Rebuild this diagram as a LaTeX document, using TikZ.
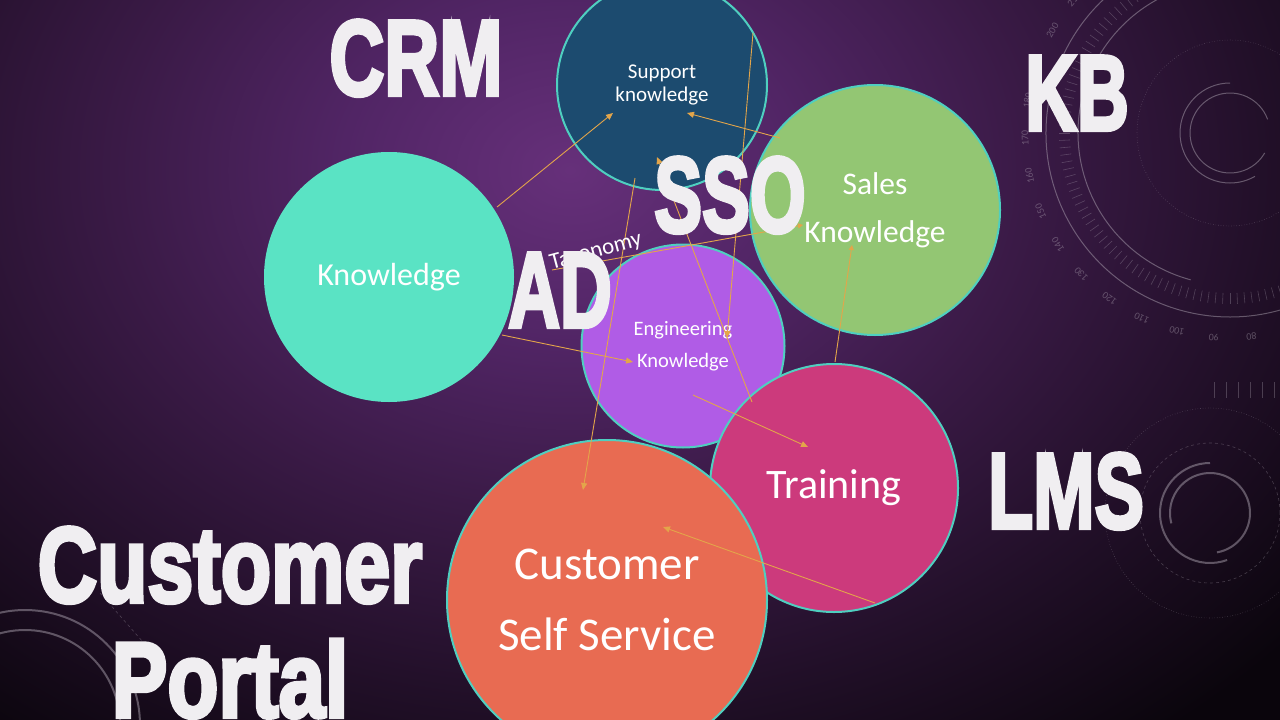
\documentclass[tikz,border=0pt]{standalone}
\usepackage{fontspec}
\setmainfont{Carlito}
\newfontfamily\bigfont[FakeBold=4]{Liberation Sans}
\usetikzlibrary{arrows.meta}
\definecolor{bgA}{HTML}{66307A}
\definecolor{bgB}{HTML}{512565}
\definecolor{bgC}{HTML}{3A1A46}
\definecolor{bgD}{HTML}{23102A}
\definecolor{bgE}{HTML}{0A050C}
\definecolor{rim}{HTML}{4FCFC0}
\definecolor{cSupport}{HTML}{1C4B6F}
\definecolor{cKnow}{HTML}{5AE3C4}
\definecolor{cSales}{HTML}{93C673}
\definecolor{cEng}{HTML}{B05CE6}
\definecolor{cTrain}{HTML}{CC3A7C}
\definecolor{cCust}{HTML}{E86B52}
\definecolor{arrowc}{HTML}{E3A54A}
\definecolor{bigc}{HTML}{F0EEF1}
\definecolor{decoc}{HTML}{B8B0BC}
\pgfdeclareradialshading{bgshade}{\pgfpoint{0bp}{0bp}}{color(0bp)=(bgA); color(6bp)=(bgB); color(12bp)=(bgC); color(18bp)=(bgD); color(25bp)=(bgE); color(50bp)=(bgE)}
\begin{document}
\begin{tikzpicture}[x=1pt,y=-1pt,
  bubble/.style={circle, draw=rim, line width=2pt, inner sep=0pt, text=white, align=center},
  link/.style={draw=arrowc, line width=0.9pt, -{Triangle[length=7pt,width=6pt]}},
  biglabel/.style={text=bigc, inner sep=0pt, anchor=base, font=\bigfont\bfseries\fontsize{107}{110}\selectfont},
  deco/.style={draw=decoc, line width=1pt, opacity=0.45},
  decothin/.style={draw=decoc, line width=0.6pt, opacity=0.3}]
\useasboundingbox (0,0) rectangle (1280,720);
% background
\begin{scope}
\clip (0,0) rectangle (1280,720);
\fill[bgE] (0,0) rectangle (1280,720);
\shade[shading=bgshade] (570,170) ellipse (950 and 720);
% top-right gauge
\begin{scope}[shift={(1230,133)}, y=1pt]
  \draw[deco] (20:40) arc[start angle=20, end angle=330, radius=40];
  \draw[deco] (90:50) arc[start angle=90, end angle=300, radius=50];
  \draw[decothin, dotted] (0,0) circle (93);
  \draw[deco] (100:152) arc[start angle=100, end angle=255, radius=152];
  \draw[deco] (80:184) arc[start angle=80, end angle=300, radius=184];
  \foreach \a in {110,112.5,...,290} \draw[decothin] (\a:160) -- (\a:171);
  \foreach \v in {80,90,...,210} {
    \pgfmathsetmacro{\ang}{360-1.05*\v}
    \node[text=decoc, opacity=0.4, font=\fontsize{10}{10}\selectfont, rotate=\ang-90] at (\ang:205) {\v};
  }
\end{scope}
% bottom-right gauge
\begin{scope}[shift={(1210,513)}, y=1pt]
  \draw[deco, line width=2pt] (90:50) arc[start angle=90, end angle=290, radius=50];
  \draw[deco, line width=2pt] (-80:40) arc[start angle=-80, end angle=195, radius=40];
  \draw[decothin, dashed] (0,0) circle (70);
  \draw[decothin, dotted] (0,0) circle (105);
\end{scope}
\foreach \x in {1214,1226,...,1280} \draw[decothin] (\x,382) -- (\x,398);
% bottom-left gauge
\draw[deco, line width=2pt] (25,725) circle (115);
\draw[deco, line width=2pt] (25,725) circle (95);
\draw[decothin, dashed] (100,593) -- (150,650);
\end{scope}

% bubbles
\node[bubble, fill=cSupport, minimum size=210pt, font=\fontsize{21}{23}\selectfont] (support) at (662,85) {Support\\knowledge};
\node[bubble, fill=cKnow, draw=cKnow, minimum size=248pt, font=\fontsize{32}{36}\selectfont] (know) at (389,277) {Knowledge};
\node[bubble, fill=cEng, minimum size=203pt, font=\fontsize{20.5}{32}\selectfont] (eng) at (683,346) {Engineering\\Knowledge};
\node[bubble, fill=cSales, minimum size=250pt, font=\fontsize{31.5}{48}\selectfont] (sales) at (875,210) {Sales\\Knowledge};
\node[bubble, fill=cTrain, minimum size=248pt, font=\fontsize{42}{46}\selectfont] (train) at (834,488) {Training};
\node[bubble, fill=cCust, minimum size=320pt, font=\fontsize{47}{71}\selectfont] (cust) at (607,600) {Customer\\Self Service};

% connector end points
\coordinate (k1) at (497,207); \coordinate (s1) at (613,113);
\coordinate (sa1) at (780,138); \coordinate (s2) at (687,113);
\coordinate (t1) at (752,402); \coordinate (s3) at (657,157);
\coordinate (s4) at (753,33);  \coordinate (e1) at (727,338);
\coordinate (s5) at (635,178); \coordinate (c1) at (583,490);
\coordinate (x1) at (552,270); \coordinate (sa2) at (803,225);
\coordinate (t2) at (835,362); \coordinate (sa3) at (852,245);
\coordinate (k2) at (502,335); \coordinate (e2) at (633,362);
\coordinate (e3) at (693,395); \coordinate (t3) at (808,447);
\coordinate (t4) at (875,603); \coordinate (c2) at (663,527);

\draw[link] (k1) -- (s1);
\draw[link] (sa1) -- (s2);
\draw[link] (t1) -- (s3);
\draw[link] (s4) -- (e1);
\draw[link] (s5) -- (c1);
\draw[link, -{Triangle[length=5pt,width=5pt]}] (x1) -- (sa2);
\draw[link, -{Triangle[length=5pt,width=5pt]}] (t2) -- (sa3);
\draw[link] (k2) -- (e2);
\draw[link] (e3) -- (t3);
\draw[link] (t4) -- (c2);

\node[text=white, font=\fontsize{23}{23}\selectfont, rotate=15, inner sep=0pt] (tax) at (596,252) {Taxonomy};

% big labels
\node[biglabel] (crm) at (416,95) {\scalebox{0.71}[1]{CRM}};
\node[biglabel] (kb) at (1077,130) {\scalebox{0.67}[1]{KB}};
\node[biglabel] (sso) at (730,232) {\scalebox{0.67}[1]{SSO}};
\node[biglabel] (ad) at (560,327) {\scalebox{0.67}[1]{AD}};
\node[biglabel] (lms) at (1066,528) {\scalebox{0.69}[1]{LMS}};
\node[biglabel] (custp) at (230,602) {\scalebox{0.77}[1]{Customer}};
\node[biglabel] (portal) at (230,717) {\scalebox{0.78}[1]{Portal}};
\end{tikzpicture}
\end{document}
